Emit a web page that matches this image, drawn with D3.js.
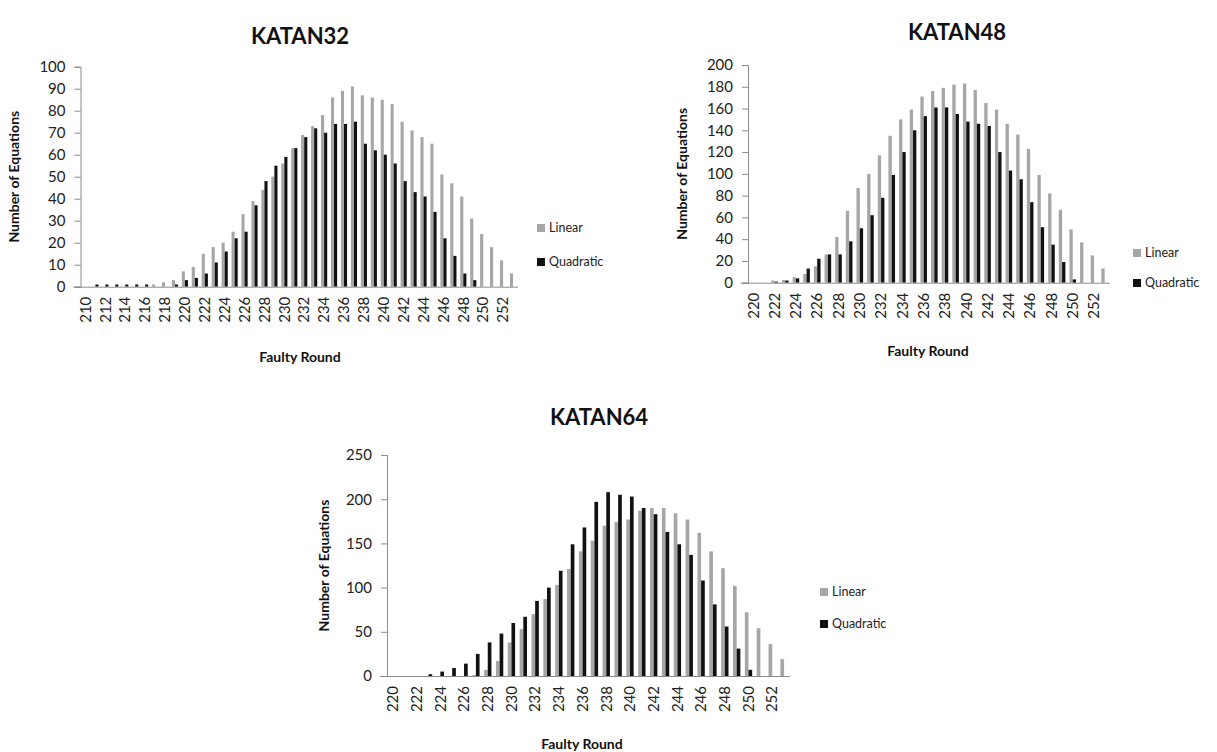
<!DOCTYPE html>
<html>
<head>
<meta charset="utf-8">
<script src="https://cdn.jsdelivr.net/npm/d3@7"></script>
<style>
  body { margin: 0; background: #fff; }
  svg { font-family: Lato, "Open Sans", sans-serif; }
</style>
</head>
<body>
<svg width="1217" height="752"></svg>
<script>
const seriesNames = ["Linear", "Quadratic"]
const seriesColors = ["#a6a6a6", "#111111"]

// KATAN32
const rounds32 = [210, 211, 212, 213, 214, 215, 216, 217, 218, 219, 220, 221, 222, 223, 224, 225, 226, 227, 228, 229,
    230, 231, 232, 233, 234, 235, 236, 237, 238, 239, 240, 241, 242, 243, 244, 245, 246, 247, 248, 249, 250, 251, 252, 253]
const linear32 = [0, 0, 0, 0, 0, 0, 0, 1, 2, 3, 7, 9, 15, 18, 20, 25, 33, 39, 44, 50,
    56, 63, 69, 73, 78, 86, 89, 91, 87, 86, 85, 83, 75, 71, 68, 65, 51, 47, 41, 31, 24, 18, 12, 6]
const quadratic32 = [0, 1, 1, 1, 1, 1, 1, 0, 0, 1, 3, 4, 6, 11, 16, 22, 25, 37, 48, 55,
    59, 63, 68, 72, 70, 74, 74, 75, 65, 62, 60, 56, 48, 43, 41, 34, 22, 14, 6, 3, 0, 0, 0, 0]
const yTicks32 = [0, 10, 20, 30, 40, 50, 60, 70, 80, 90, 100]

// KATAN48
const rounds48 = [220, 221, 222, 223, 224, 225, 226, 227, 228, 229, 230, 231, 232, 233, 234, 235, 236,
    237, 238, 239, 240, 241, 242, 243, 244, 245, 246, 247, 248, 249, 250, 251, 252, 253]
const linear48 = [0, 0, 2, 2.5, 5, 8, 15, 26, 42, 66, 87, 100, 117, 135, 150, 159, 171,
    176, 179, 182, 183, 177, 165, 159, 146, 136, 123, 99, 82, 67, 49, 37, 25, 13]
const quadratic48 = [0, 0, 1, 2, 4, 13, 22, 26, 26, 38, 50, 62, 78, 99, 120, 140, 153,
    161, 161, 155, 148, 146, 144, 120, 103, 95, 74, 51, 35, 19, 3, 0, 0, 0]
const yTicks48 = [0, 20, 40, 60, 80, 100, 120, 140, 160, 180, 200]

// KATAN64
const rounds64 = [220, 221, 222, 223, 224, 225, 226, 227, 228, 229, 230, 231, 232, 233, 234, 235, 236,
    237, 238, 239, 240, 241, 242, 243, 244, 245, 246, 247, 248, 249, 250, 251, 252, 253]
const linear64 = [0, 0, 0, 0, 0, 0, 0, 1, 7, 17, 38, 53, 70, 87, 103, 121, 141,
    153, 170, 174, 177, 187, 190, 190, 184, 177, 162, 141, 122, 102, 72, 54, 36, 19]
const quadratic64 = [0, 0, 0, 2, 5, 9, 14, 25, 38, 48, 60, 67, 85, 100, 119, 149, 168,
    197, 208, 205, 203, 190, 183, 163, 149, 137, 108, 81, 56, 31, 7, 0, 0, 0]
const yTicks64 = [0, 50, 100, 150, 200, 250]

const svg = d3.select("svg")
const axisColor = "#8c8c8c"

function drawPanel(p) {
    let g = svg.append("g")

    let x = d3.scaleBand().domain(p.rounds).range([p.left, p.right])
    let y = d3.scaleLinear().domain([0, d3.max(p.yTicks)]).range([p.bottom, p.top])
    let groupW = x.bandwidth() * 0.62
    let x1 = d3.scaleBand().domain(seriesNames).range([-groupW / 2, groupW / 2])

    // title
    g.append("text")
        .attr("x", p.titleX).attr("y", p.titleY)
        .attr("text-anchor", "middle")
        .attr("font-size", 22).attr("font-weight", "bold")
        .attr("fill", "#111")
        .text(p.title)

    // bars
    let rows = p.rounds.map((r, i) => ({ round: r, values: [p.linear[i], p.quadratic[i]] }))
    g.append("g").selectAll("g")
        .data(rows)
        .enter().append("g")
        .attr("transform", d => "translate(" + (x(d.round) + x.bandwidth() / 2) + ",0)")
        .selectAll("rect")
        .data(d => d.values.map((v, k) => ({ name: seriesNames[k], value: v, color: seriesColors[k] })))
        .enter().append("rect")
        .attr("x", d => x1(d.name))
        .attr("width", x1.bandwidth())
        .attr("y", d => y(d.value))
        .attr("height", d => y(0) - y(d.value))
        .attr("fill", d => d.color)

    // y axis
    let yAxis = g.append("g")
        .attr("transform", "translate(" + p.left + ",0)")
        .call(d3.axisLeft(y).tickValues(p.yTicks).tickSize(6).tickPadding(9))
    yAxis.select(".domain").attr("stroke", axisColor)
    yAxis.selectAll(".tick line").attr("stroke", axisColor)
    yAxis.selectAll("text").attr("font-size", 15).attr("fill", "#222").attr("font-family", "Lato, sans-serif")

    // x axis
    let xAxis = g.append("g")
        .attr("transform", "translate(0," + p.bottom + ")")
        .call(d3.axisBottom(x).tickValues(p.rounds.filter(r => r % 2 == 0)).tickSize(0).tickPadding(0))
    xAxis.select(".domain").attr("stroke", axisColor).attr("d", "M" + (p.left - 7) + ",0.5H" + p.right)
    xAxis.selectAll("text")
        .attr("font-size", 15).attr("fill", "#222").attr("font-family", "Lato, sans-serif")
        .attr("transform", "rotate(-90)")
        .attr("text-anchor", "end")
        .attr("x", -10).attr("y", 0).attr("dy", "0.35em")

    // axis titles
    g.append("text")
        .attr("transform", "translate(" + p.yTitleX + "," + (p.top + p.bottom) / 2 + ") rotate(-90)")
        .attr("text-anchor", "middle")
        .attr("font-size", 14).attr("font-weight", "bold").attr("fill", "#111")
        .text("Number of Equations")
    g.append("text")
        .attr("x", p.xTitleX).attr("y", p.xTitleY)
        .attr("text-anchor", "middle")
        .attr("font-size", 14).attr("font-weight", "bold").attr("fill", "#111")
        .text("Faulty Round")

    // legend
    let legend = g.append("g").selectAll("g")
        .data(seriesNames)
        .enter().append("g")
        .attr("transform", (d, i) => "translate(" + p.legendX + "," + (p.legendY + i * p.legendGap) + ")")
    legend.append("rect")
        .attr("x", 0).attr("y", -4).attr("width", 8).attr("height", 8)
        .attr("fill", (d, i) => seriesColors[i])
    legend.append("text")
        .attr("x", 12).attr("y", 0).attr("dy", "0.35em")
        .attr("font-size", 12.5).attr("fill", "#222")
        .text(d => d)
}

drawPanel({
    title: "KATAN32", titleX: 300, titleY: 44,
    rounds: rounds32, linear: linear32, quadratic: quadratic32, yTicks: yTicks32,
    left: 80.5, right: 518, top: 66.7, bottom: 286.7,
    yTitleX: 19, xTitleX: 300, xTitleY: 362,
    legendX: 537, legendY: 228, legendGap: 34
})

drawPanel({
    title: "KATAN48", titleX: 957, titleY: 40,
    rounds: rounds48, linear: linear48, quadratic: quadratic48, yTicks: yTicks48,
    left: 748, right: 1110, top: 65, bottom: 282.7,
    yTitleX: 687, xTitleX: 928, xTitleY: 356,
    legendX: 1133, legendY: 253, legendGap: 30
})

drawPanel({
    title: "KATAN64", titleX: 599, titleY: 425,
    rounds: rounds64, linear: linear64, quadratic: quadratic64, yTicks: yTicks64,
    left: 387, right: 790, top: 455, bottom: 676,
    yTitleX: 329, xTitleX: 582, xTitleY: 749,
    legendX: 820, legendY: 592, legendGap: 32
})
</script>
</body>
</html>
